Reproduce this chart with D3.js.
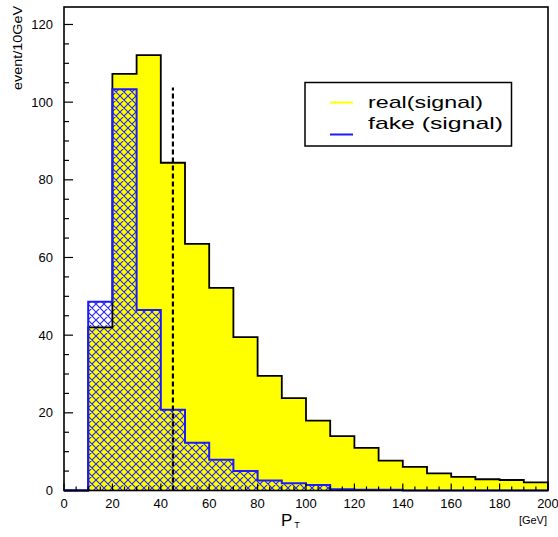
<!DOCTYPE html>
<html>
<head>
<meta charset="utf-8">
<script src="https://cdn.jsdelivr.net/npm/d3@7"></script>
<style>
  body { margin: 0; background: #fff; }
  svg { display: block; }
  text { font-family: "Liberation Sans", Arial, sans-serif; fill: #000; }
</style>
</head>
<body>
<script>
// bin lower edges, 10 GeV wide
const binEdges = [0, 10, 20, 30, 40, 50, 60, 70, 80, 90, 100, 110, 120, 130, 140, 150, 160, 170, 180, 190];
const binWidth = 10;
const realSignal = [0, 42.0, 107.3, 112.1, 84.4, 63.5, 52.2, 39.5, 29.5, 23.8, 18.0, 14.0, 11.0, 7.7, 6.1, 4.4, 3.5, 2.9, 2.7, 2.1];
const fakeSignal = [0, 48.6, 103.3, 46.5, 20.8, 12.3, 7.9, 5.0, 2.6, 1.85, 1.4, 0.3, 0.2, 0.2, 0, 0, 0, 0, 0, 0];
const cutValue = 45;
const cutHeight = 103.8;
const xTicks = [0, 20, 40, 60, 80, 100, 120, 140, 160, 180, 200];
const yTicks = [0, 20, 40, 60, 80, 100, 120];
const legendLabels = ['real(signal)', 'fake (signal)'];

const width = 558, height = 537;
const margin = {top: 7, right: 10, bottom: 46.5, left: 64};

const svg = d3.select('body').append('svg').attr('width', width).attr('height', height);

const x = d3.scaleLinear().domain([0, 200]).range([margin.left, width - margin.right]);
const y = d3.scaleLinear().domain([0, 124.5]).range([height - margin.bottom, margin.top]);

// hatch pattern for the fake histogram
const defs = svg.append('defs');
const pat = defs.append('pattern')
    .attr('id', 'hatch')
    .attr('patternUnits', 'userSpaceOnUse')
    .attr('width', 8).attr('height', 8);
pat.append('path')
    .attr('d', 'M-2,-2L10,10M10,-2L-2,10M-2,6L2,10M6,-2L10,2M6,10L10,6M-2,2L2,-2')
    .attr('stroke', '#2222ff')
    .attr('stroke-width', 1.1)
    .attr('fill', 'none');

function stepPoints(values) {
    const pts = [{x: binEdges[0], v: 0}];
    values.forEach((v, i) => pts.push({x: binEdges[i], v: v}));
    const last = binEdges[binEdges.length - 1] + binWidth;
    pts.push({x: last, v: values[values.length - 1]});
    pts.push({x: last, v: 0});
    return pts;
}

const line = d3.line().x(d => x(d.x)).y(d => y(d.v)).curve(d3.curveStepAfter);
const area = d3.area().x(d => x(d.x)).y0(y(0)).y1(d => y(d.v)).curve(d3.curveStepAfter);

const realPts = stepPoints(realSignal);
const fakePts = stepPoints(fakeSignal);

// real: yellow fill
svg.append('path').attr('d', area(realPts)).attr('fill', '#ffff00');
// fake: hatch
svg.append('path').attr('d', area(fakePts)).attr('fill', 'url(#hatch)');
// real outline
svg.append('path').attr('d', line(realPts))
    .attr('fill', 'none').attr('stroke', '#000').attr('stroke-width', 1.8);
// fake outline
svg.append('path').attr('d', line(fakePts))
    .attr('fill', 'none').attr('stroke', '#1a1aff').attr('stroke-width', 2);

// dashed cut line
svg.append('line')
    .attr('x1', x(cutValue)).attr('x2', x(cutValue))
    .attr('y1', y(0)).attr('y2', y(cutHeight))
    .attr('stroke', '#000').attr('stroke-width', 2.2)
    .attr('stroke-dasharray', '5,3');

// frame
svg.append('rect')
    .attr('x', x(0)).attr('y', y(124.5))
    .attr('width', x(200) - x(0)).attr('height', y(0) - y(124.5))
    .attr('fill', 'none').attr('stroke', '#000').attr('stroke-width', 1.6);

// y axis ticks (inward)
const yMinor = d3.range(0, 125, 5);
svg.append('g').selectAll('line').data(yMinor).enter().append('line')
    .attr('x1', x(0)).attr('x2', d => x(0) + (d % 20 === 0 ? 9 : 5))
    .attr('y1', d => y(d)).attr('y2', d => y(d))
    .attr('stroke', '#000').attr('stroke-width', 1.2);
svg.append('g').selectAll('text').data(yTicks).enter().append('text')
    .attr('x', x(0) - 11).attr('y', d => y(d) + 4.5)
    .attr('text-anchor', 'end').style('font-size', '13px')
    .text(d => d);

// x axis ticks (inward)
const xMinor = d3.range(0, 201, 5);
svg.append('g').selectAll('line').data(xMinor).enter().append('line')
    .attr('x1', d => x(d)).attr('x2', d => x(d))
    .attr('y1', y(0)).attr('y2', d => y(0) - (d % 20 === 0 ? 7 : 4))
    .attr('stroke', '#000').attr('stroke-width', 1.2);
svg.append('g').selectAll('text').data(xTicks).enter().append('text')
    .attr('x', d => x(d)).attr('y', y(0) + 17)
    .attr('text-anchor', 'middle').style('font-size', '13px')
    .text(d => d);

// axis titles
svg.append('text')
    .attr('transform', `translate(22,${48}) rotate(-90)`)
    .attr('text-anchor', 'middle')
    .attr('textLength', 84).attr('lengthAdjust', 'spacingAndGlyphs')
    .style('font-size', '12px')
    .text('event/10GeV');

const pt = svg.append('text').attr('x', 281).attr('y', 525.5).style('font-size', '17px');
pt.append('tspan').text('P');
pt.append('tspan').attr('dx', 2).attr('dy', 2).style('font-size', '9px').text('T');

svg.append('text')
    .attr('x', 547).attr('y', 524)
    .attr('text-anchor', 'end').style('font-size', '11px')
    .text('[GeV]');

// legend
const legend = svg.append('g');
legend.append('rect')
    .attr('x', 305).attr('y', 82.5).attr('width', 206.5).attr('height', 63.5)
    .attr('fill', '#fff').attr('stroke', '#000').attr('stroke-width', 1.5);
const legendColors = ['#ffff00', '#1a1aff'];
legendLabels.forEach((lab, i) => {
    const ly = 102.5 + i * 32;
    legend.append('line')
        .attr('x1', 330).attr('x2', 353).attr('y1', ly).attr('y2', ly)
        .attr('stroke', legendColors[i]).attr('stroke-width', 2);
    legend.append('text')
        .attr('x', 368).attr('y', 107.5 + i * 21)
        .attr('textLength', i === 0 ? 115 : 135).attr('lengthAdjust', 'spacingAndGlyphs')
        .style('font-size', '17px')
        .text(lab);
});
</script>
</body>
</html>
